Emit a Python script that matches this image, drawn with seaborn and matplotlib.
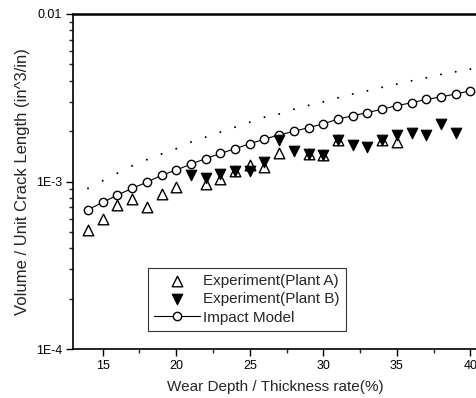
import numpy as np
import pandas as pd
import matplotlib
matplotlib.use("Agg")
import matplotlib.pyplot as plt
import matplotlib.ticker as mticker
import seaborn as sns

# Datos
depth_model = list(range(14, 41))
impact_model = [6.8e-4, 7.5e-4, 8.3e-4, 9.1e-4, 9.9e-4, 1.09e-3, 1.17e-3, 1.27e-3, 1.37e-3,
                1.47e-3, 1.57e-3, 1.68e-3, 1.79e-3, 1.90e-3, 1.99e-3, 2.10e-3, 2.21e-3,
                2.36e-3, 2.47e-3, 2.58e-3, 2.70e-3, 2.84e-3, 2.95e-3, 3.09e-3, 3.20e-3,
                3.33e-3, 3.48e-3]
dotted_curve = [9.1e-4, 1.01e-3, 1.12e-3, 1.24e-3, 1.35e-3, 1.46e-3, 1.57e-3, 1.72e-3, 1.84e-3,
                1.97e-3, 2.11e-3, 2.26e-3, 2.42e-3, 2.53e-3, 2.70e-3, 2.85e-3, 2.99e-3,
                3.16e-3, 3.33e-3, 3.48e-3, 3.65e-3, 3.81e-3, 3.99e-3, 4.16e-3, 4.36e-3,
                4.52e-3, 4.69e-3]

depth_a = [14, 15, 16, 17, 18, 19, 20, 22, 23, 24, 25, 26, 27, 29, 30, 31, 34, 35]
plant_a = [5.1e-4, 6.0e-4, 7.2e-4, 7.9e-4, 7.0e-4, 8.45e-4, 9.3e-4, 9.7e-4, 1.04e-3, 1.16e-3,
           1.26e-3, 1.22e-3, 1.48e-3, 1.46e-3, 1.44e-3, 1.77e-3, 1.78e-3, 1.72e-3]

depth_b = list(range(21, 40))
plant_b = [1.10e-3, 1.05e-3, 1.11e-3, 1.16e-3, 1.15e-3, 1.30e-3, 1.77e-3, 1.53e-3, 1.46e-3,
           1.44e-3, 1.77e-3, 1.65e-3, 1.60e-3, 1.78e-3, 1.90e-3, 1.94e-3, 1.90e-3, 2.20e-3,
           1.94e-3]

sns.set_style("white")
plt.rcParams["font.family"] = ["Liberation Sans", "DejaVu Sans"]

fig = plt.figure(figsize=(4.77, 3.98), dpi=100)
ax = fig.add_axes([73.3 / 477, 49 / 398, 1 - 73.3 / 477, (349 - 14) / 398])

df_model = pd.DataFrame({"x": depth_model, "y": impact_model})
df_dot = pd.DataFrame({"x": depth_model, "y": dotted_curve})
df_a = pd.DataFrame({"x": depth_a, "y": plant_a})
df_b = pd.DataFrame({"x": depth_b, "y": plant_b})

# curva punteada
sns.scatterplot(data=df_dot, x="x", y="y", ax=ax, marker="o", s=2, color="black",
                edgecolor="none", legend=False)
# modelo
ax.plot(df_model["x"], df_model["y"], color="black", lw=0.8, marker="o", ms=6,
        mfc="white", mec="black", mew=1.0, label="Impact Model", zorder=3)
sns.scatterplot(data=df_a, x="x", y="y", ax=ax, marker="^", s=58, facecolor="white",
                edgecolor="black", linewidth=1.0, label="Experiment(Plant A)", zorder=4)
sns.scatterplot(data=df_b, x="x", y="y", ax=ax, marker="v", s=58, color="black",
                edgecolor="black", linewidth=0.8, label="Experiment(Plant B)", zorder=4)

ax.set_yscale("log")
ax.set_ylim(1e-4, 1e-2)
ax.set_xlim(13, 40.45)
ax.xaxis.set_major_locator(mticker.MultipleLocator(5))
ax.xaxis.set_minor_locator(mticker.MultipleLocator(2.5))
ax.yaxis.set_major_locator(mticker.FixedLocator([1e-4, 1e-3, 1e-2]))
ax.yaxis.set_major_formatter(mticker.FixedFormatter(["1E-4", "1E-3", "0.01"]))
ax.yaxis.set_minor_locator(mticker.LogLocator(base=10, subs=np.arange(2, 10)))
ax.yaxis.set_minor_formatter(mticker.NullFormatter())

ax.tick_params(axis="both", which="major", direction="out", length=5, width=1.0,
               labelsize=9, colors="black", pad=3)
ax.tick_params(axis="both", which="minor", direction="out", length=3, width=1.0)
ax.tick_params(axis="x", which="both", bottom=True, top=False)
ax.tick_params(axis="y", which="both", left=True, right=False)

for side in ["left", "bottom", "top"]:
    ax.spines[side].set_color("black")
    ax.spines[side].set_linewidth(1.2)
ax.spines["top"].set_linewidth(1.8)
ax.spines["right"].set_visible(False)

ax.set_xlabel("Wear Depth / Thickness rate(%)", fontsize=11, labelpad=6)
ax.set_ylabel("Volume / Unit Crack Length (in^3/in)", fontsize=12, labelpad=4)

handles, labels = ax.get_legend_handles_labels()
order = [labels.index("Experiment(Plant A)"), labels.index("Experiment(Plant B)"),
         labels.index("Impact Model")]
leg = ax.legend([handles[i] for i in order], [labels[i] for i in order],
                loc="lower left", bbox_to_anchor=((148 - 73.3) / (477 - 73.3), (349 - 331) / 335),
                frameon=True, fancybox=False, edgecolor="black", fontsize=11,
                handlelength=3.0, handletextpad=0.2, borderpad=0.42, labelspacing=0.28,
                borderaxespad=0)
leg.get_frame().set_linewidth(0.8)

plt.savefig("out.png", dpi=100)
plt.close()
